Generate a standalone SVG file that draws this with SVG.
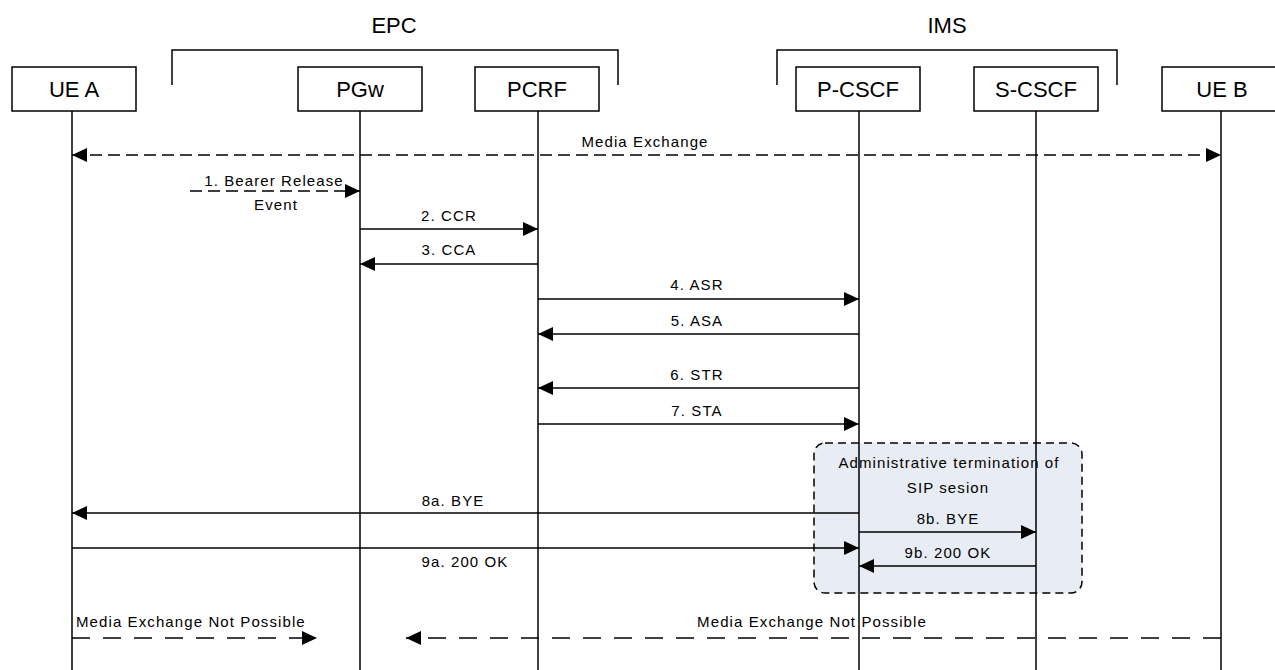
<svg xmlns="http://www.w3.org/2000/svg" width="1275" height="670" viewBox="0 0 1275 670">
  <style>
    .box { fill: #ffffff; stroke: #000000; stroke-width: 1.5; }
    .name { font-family: "Liberation Sans", Arial, sans-serif; font-size: 22px; fill: #000000; text-anchor: middle; }
    .group { font-family: "Liberation Sans", Arial, sans-serif; font-size: 22px; fill: #000000; text-anchor: middle; }
    .bracket { fill: none; stroke: #000000; stroke-width: 1.5; }
    .life { stroke: #000000; stroke-width: 1.5; fill: none; }
    .msg { stroke: #000000; stroke-width: 1.5; fill: none; marker-end: url(#head); }
    .dash { stroke-dasharray: 12 6; }
    .dash-long { stroke-dasharray: 18 13; }
    .lbl { font-family: "Liberation Sans", Arial, sans-serif; font-size: 15px; letter-spacing: 1.1px; fill: #000000; text-anchor: middle; }
    .lbl-start { font-family: "Liberation Sans", Arial, sans-serif; font-size: 15px; letter-spacing: 1.1px; fill: #000000; text-anchor: start; }
    .region { fill: #e8ecf4; stroke: #000000; stroke-width: 1.5; stroke-dasharray: 8 5; }
  </style>
  <defs>
    <marker id="head" markerUnits="userSpaceOnUse" markerWidth="16" markerHeight="14" refX="15" refY="7" orient="auto-start-reverse">
      <path d="M0,0 L15,7 L0,14 Z" fill="#000000"/>
    </marker>
  </defs>

  <rect width="1275" height="670" fill="#ffffff"/>

  <!-- grouping brackets -->
  <g id="epc">
    <polyline class="bracket" points="172,85 172,50 618,50 618,85"/>
    <text class="group" x="394" y="33">EPC</text>
  </g>
  <g id="ims">
    <polyline class="bracket" points="777,85 777,50 1117,50 1117,85"/>
    <text class="group" x="947" y="33">IMS</text>
  </g>

  <!-- shaded region for the SIP session termination -->
  <g id="admin-termination">
    <rect class="region" x="814" y="443" width="268" height="150" rx="11" ry="11"/>
    <text class="lbl" x="949" y="468">Administrative termination of</text>
    <text class="lbl" x="948" y="493">SIP sesion</text>
  </g>

  <!-- participants -->
  <g id="ue-a">
    <rect class="box" x="12" y="67" width="124" height="44"/>
    <text class="name" x="74" y="97">UE A</text>
    <line class="life" x1="72" y1="111" x2="72" y2="670"/>
  </g>
  <g id="pgw">
    <rect class="box" x="298" y="67" width="124" height="44"/>
    <text class="name" x="360" y="97">PGw</text>
    <line class="life" x1="360" y1="111" x2="360" y2="670"/>
  </g>
  <g id="pcrf">
    <rect class="box" x="475" y="67" width="124" height="44"/>
    <text class="name" x="537" y="97">PCRF</text>
    <line class="life" x1="538" y1="111" x2="538" y2="670"/>
  </g>
  <g id="p-cscf">
    <rect class="box" x="796" y="67" width="124" height="44"/>
    <text class="name" x="858" y="97">P-CSCF</text>
    <line class="life" x1="859" y1="111" x2="859" y2="670"/>
  </g>
  <g id="s-cscf">
    <rect class="box" x="974" y="67" width="124" height="44"/>
    <text class="name" x="1036" y="97">S-CSCF</text>
    <line class="life" x1="1036" y1="111" x2="1036" y2="670"/>
  </g>
  <g id="ue-b">
    <rect class="box" x="1162" y="67" width="124" height="44"/>
    <text class="name" x="1222" y="97">UE B</text>
    <line class="life" x1="1221" y1="111" x2="1221" y2="670"/>
  </g>

  <!-- messages -->
  <g id="connectors">
    <line class="msg dash" x1="72" y1="155" x2="1221" y2="155" marker-start="url(#head)"/>
    <text class="lbl" x="645" y="147">Media Exchange</text>

    <line class="msg dash" x1="190" y1="191" x2="360" y2="191"/>
    <text class="lbl" x="274" y="186">1. Bearer Release</text>
    <text class="lbl" x="276" y="210">Event</text>

    <line class="msg" x1="360" y1="229" x2="538" y2="229"/>
    <text class="lbl" x="449" y="221">2. CCR</text>

    <line class="msg" x1="538" y1="264" x2="360" y2="264"/>
    <text class="lbl" x="449" y="255">3. CCA</text>

    <line class="msg" x1="538" y1="299" x2="859" y2="299"/>
    <text class="lbl" x="697" y="290">4. ASR</text>

    <line class="msg" x1="859" y1="334" x2="538" y2="334"/>
    <text class="lbl" x="697" y="326">5. ASA</text>

    <line class="msg" x1="859" y1="388" x2="538" y2="388"/>
    <text class="lbl" x="697" y="380">6. STR</text>

    <line class="msg" x1="538" y1="424" x2="859" y2="424"/>
    <text class="lbl" x="697" y="416">7. STA</text>

    <line class="msg" x1="859" y1="513" x2="72" y2="513"/>
    <text class="lbl" x="453" y="506">8a. BYE</text>

    <line class="msg" x1="859" y1="532" x2="1036" y2="532"/>
    <text class="lbl" x="948" y="524">8b. BYE</text>

    <line class="msg" x1="72" y1="548" x2="859" y2="548"/>
    <text class="lbl" x="465" y="567">9a. 200 OK</text>

    <line class="msg" x1="1036" y1="566" x2="859" y2="566"/>
    <text class="lbl" x="948" y="558">9b. 200 OK</text>

    <line class="msg dash-long" x1="72" y1="638" x2="317" y2="638"/>
    <text class="lbl-start" x="76" y="627">Media Exchange Not Possible</text>

    <line class="msg dash-long" x1="1221" y1="638" x2="406" y2="638"/>
    <text class="lbl" x="812" y="627">Media Exchange Not Possible</text>
  </g>
</svg>
